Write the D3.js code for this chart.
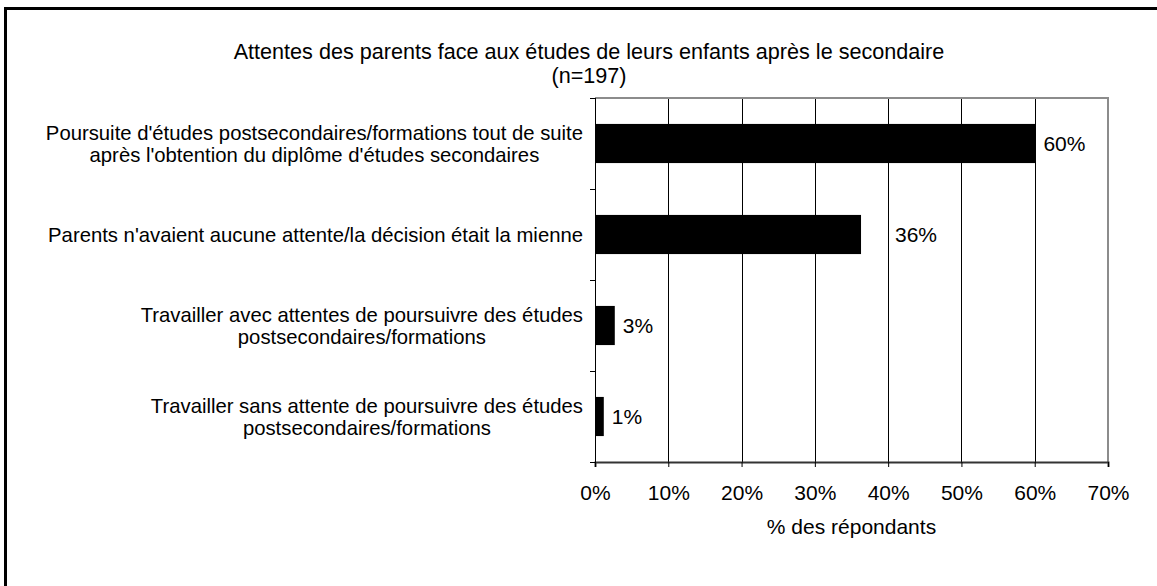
<!DOCTYPE html>
<html>
<head>
<meta charset="utf-8">
<script src="https://cdn.jsdelivr.net/npm/d3@7"></script>
<style>
  body { margin: 0; background: #fff; }
  svg { display: block; font-family: "Liberation Sans", Arial, sans-serif; }
</style>
</head>
<body>
<div id="chart"></div>
<script>
// chart data
const categories = [
  ["Poursuite d'études postsecondaires/formations tout de suite", "après l'obtention du diplôme d'études secondaires"],
  ["Parents n'avaient aucune attente/la décision était la mienne"],
  ["Travailler avec attentes de poursuivre des études", "postsecondaires/formations"],
  ["Travailler sans attente de poursuivre des études", "postsecondaires/formations"]
];
const values = [60.1, 36.3, 2.7, 1.2];
const valueLabels = ["60%", "36%", "3%", "1%"];
const xTicks = [0, 10, 20, 30, 40, 50, 60, 70];
const titleLines = ["Attentes des parents face aux études de leurs enfants après le secondaire", "(n=197)"];
const xTitle = "% des répondants";

const width = 1157, height = 586;
const plot = { left: 595, right: 1108, top: 98, bottom: 462 };
// Excel put the 36% label further out than the others
const labelDx = [8, 34, 8, 8];

const svg = d3.select("#chart").append("svg")
    .attr("width", width)
    .attr("height", height);

// outer frame, runs off the right and bottom edges
svg.append("rect")
   .attr("x", 5.5).attr("y", 8.5)
   .attr("width", 1200).attr("height", 700)
   .attr("fill", "none").attr("stroke", "#000").attr("stroke-width", 3);

const x = d3.scaleLinear().domain([0, 70]).range([plot.left, plot.right]);
const y = d3.scaleBand()
            .domain(d3.range(categories.length))
            .range([plot.top, plot.bottom])
            .paddingInner(0.57)
            .paddingOuter(0.285);
const step = y.step();

// gridlines
svg.append("g")
   .selectAll("line")
   .data(xTicks.slice(1, -1))
   .enter().append("line")
   .attr("x1", d => Math.round(x(d)) + 0.5).attr("x2", d => Math.round(x(d)) + 0.5)
   .attr("y1", plot.top).attr("y2", plot.bottom)
   .attr("stroke", "#000").attr("stroke-width", 1);

// top and right border
svg.append("path")
   .attr("d", `M${plot.left},${plot.top} H${plot.right} V${plot.bottom}`)
   .attr("fill", "none").attr("stroke", "#8c8c8c").attr("stroke-width", 2);

// bars
svg.append("g")
   .selectAll("rect")
   .data(values)
   .enter().append("rect")
   .attr("x", x(0))
   .attr("y", (d, i) => y(i))
   .attr("width", d => x(d) - x(0))
   .attr("height", y.bandwidth())
   .attr("fill", "#000");

// bottom axis
const xAxis = svg.append("g")
   .attr("transform", `translate(0,${plot.bottom})`)
   .call(d3.axisBottom(x).tickValues(xTicks).tickSize(5).tickPadding(18).tickFormat(d => d + "%"));
xAxis.select(".domain").attr("stroke", "#333").attr("stroke-width", 2);
xAxis.selectAll(".tick line").attr("stroke", "#000");
xAxis.selectAll("text")
     .attr("font-size", 21).attr("font-family", "Liberation Sans, Arial, sans-serif")
     .attr("fill", "#000");

// left axis, ticks between categories
const yEdges = d3.range(categories.length + 1).map(i => plot.top + i * step);
svg.append("line")
   .attr("x1", plot.left + 0.5).attr("x2", plot.left + 0.5)
   .attr("y1", plot.top).attr("y2", plot.bottom)
   .attr("stroke", "#000").attr("stroke-width", 1);
svg.append("g")
   .selectAll("line")
   .data(yEdges)
   .enter().append("line")
   .attr("x1", plot.left - 5).attr("x2", plot.left)
   .attr("y1", d => Math.round(d) + 0.5).attr("y2", d => Math.round(d) + 0.5)
   .attr("stroke", "#000");

// category labels: lines centred in a block that ends at the axis
const lineH = 22;
const catG = svg.append("g").attr("font-size", 20.3).attr("fill", "#000");
categories.forEach((lines, i) => {
  const cy = y(i) + y.bandwidth() / 2;
  const t = catG.append("text").attr("text-anchor", "middle");
  lines.forEach((ln, j) => {
    t.append("tspan")
     .attr("y", cy + (j - (lines.length - 1) / 2) * lineH)
     .attr("dy", "0.35em")
     .text(ln);
  });
  let w = 0;
  t.selectAll("tspan").each(function() { w = Math.max(w, this.getComputedTextLength()); });
  t.selectAll("tspan").attr("x", plot.left - 12 - w / 2);
});

// value labels
svg.append("g")
   .selectAll("text")
   .data(values)
   .enter().append("text")
   .attr("x", (d, i) => x(d) + labelDx[i])
   .attr("y", (d, i) => y(i) + y.bandwidth() / 2)
   .attr("dy", "0.35em")
   .attr("font-size", 21)
   .text((d, i) => valueLabels[i]);

// title
svg.append("g")
   .selectAll("text")
   .data(titleLines)
   .enter().append("text")
   .attr("x", 589)
   .attr("y", (d, i) => 59 + i * 24)
   .attr("text-anchor", "middle")
   .attr("font-size", 21.6)
   .text(d => d);

// x axis title
svg.append("text")
   .attr("x", (plot.left + plot.right) / 2)
   .attr("y", 534)
   .attr("text-anchor", "middle")
   .attr("font-size", 21)
   .text(xTitle);
</script>
</body>
</html>
